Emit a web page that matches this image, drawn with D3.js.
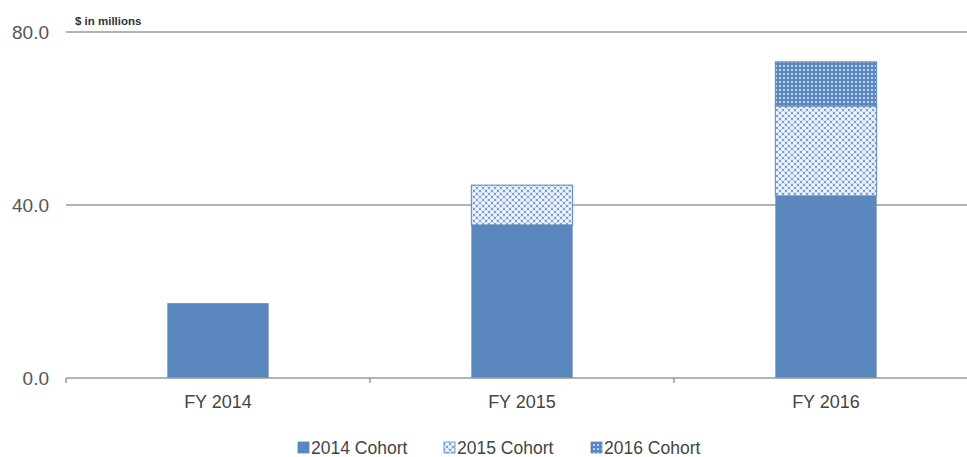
<!DOCTYPE html>
<html>
<head>
<meta charset="utf-8">
<script src="https://cdn.jsdelivr.net/npm/d3@7"></script>
<style>
  body { margin: 0; background: #fff; }
  text { font-family: "Liberation Sans", Arial, sans-serif; }
</style>
</head>
<body>
<div id="chart"></div>
<script>
// data ($ in millions)
var categories = ["FY 2014", "FY 2015", "FY 2016"];
var cohorts = ["2014 Cohort", "2015 Cohort", "2016 Cohort"];
var cohort2014 = [17.3, 35.4, 42.1];
var cohort2015 = [0, 9.2, 20.8];
var cohort2016 = [0, 0, 10.2];
var yTicks = [0, 40, 80];

var W = 967, H = 457;
var margin = { top: 32, right: -11, bottom: 79, left: 66 };
var width = W - margin.left - margin.right,
    height = H - margin.top - margin.bottom;
var blue = "#5a87bd";

var svg = d3.select("#chart").append("svg")
  .attr("width", W).attr("height", H);

var defs = svg.append("defs");
// lattice for 2015 cohort: offset white spots on blue
var p1 = defs.append("pattern").attr("id", "pat2015")
  .attr("patternUnits", "userSpaceOnUse").attr("width", 6).attr("height", 6);
p1.append("rect").attr("width", 6).attr("height", 6).attr("fill", "#7aa0cf");
[[3, 3], [0, 0], [6, 0], [0, 6], [6, 6]].forEach(function (c) {
  p1.append("circle").attr("cx", c[0]).attr("cy", c[1]).attr("r", 2.05).attr("fill", "#f2f6fc");
});
// small dots for 2016 cohort
var p2 = defs.append("pattern").attr("id", "pat2016")
  .attr("patternUnits", "userSpaceOnUse").attr("width", 4).attr("height", 4);
p2.append("rect").attr("width", 4).attr("height", 4).attr("fill", blue);
p2.append("rect").attr("x", 1).attr("y", 1).attr("width", 2).attr("height", 2).attr("fill", "#bcd0ea");

var fills = [blue, "url(#pat2015)", "url(#pat2016)"];

var g = svg.append("g")
  .attr("transform", "translate(" + margin.left + "," + margin.top + ")");

var x = d3.scaleBand().domain(categories).range([0, width]).paddingInner(0).paddingOuter(0);
var y = d3.scaleLinear().domain([0, 80]).range([height, 0]);

// gridlines
g.selectAll(".grid").data(yTicks.filter(d => d > 0)).join("line")
  .attr("class", "grid")
  .attr("x1", 0).attr("x2", width)
  .attr("y1", d => y(d)).attr("y2", d => y(d))
  .attr("stroke", "#9a9a9a").attr("stroke-width", 1.5);

// y labels
g.selectAll(".ylab").data(yTicks).join("text")
  .attr("class", "ylab")
  .attr("x", -17).attr("y", d => y(d)).attr("dy", "0.36em")
  .attr("text-anchor", "end")
  .attr("font-size", 19).attr("fill", "#555")
  .text(d => d.toFixed(1));

g.append("text").attr("x", 9).attr("y", -7)
  .attr("font-size", 11.5).attr("font-weight", "bold").attr("fill", "#333")
  .text("$ in millions");

// stacked bars
var rows = categories.map((c, i) => ({ cat: c, a: cohort2014[i], b: cohort2015[i], c: cohort2016[i] }));
var stack = d3.stack().keys(["a", "b", "c"])(rows);
var bw = x.bandwidth() / 3;

stack.forEach(function (layer, k) {
  g.selectAll(".bar" + k).data(layer.filter(d => d[1] - d[0] > 0)).join("rect")
    .attr("class", "bar" + k)
    .attr("x", d => x(d.data.cat) + x.bandwidth() / 2 - bw / 2)
    .attr("width", bw)
    .attr("y", d => y(d[1]))
    .attr("height", d => y(d[0]) - y(d[1]))
    .attr("fill", fills[k])
    .attr("stroke", k > 0 ? blue : "none")
    .attr("stroke-width", 1);
});

// x axis
var xAxis = g.append("g").attr("transform", "translate(0," + height + ")");
xAxis.append("line").attr("x1", 0).attr("x2", width)
  .attr("stroke", "#9a9a9a").attr("stroke-width", 1.5);
xAxis.selectAll(".tick").data(categories).join("line")
  .attr("x1", d => x(d)).attr("x2", d => x(d))
  .attr("y1", 0).attr("y2", 5)
  .attr("stroke", "#9a9a9a").attr("stroke-width", 1.5);
xAxis.selectAll(".xlab").data(categories).join("text")
  .attr("x", d => x(d) + x.bandwidth() / 2)
  .attr("y", 30)
  .attr("text-anchor", "middle")
  .attr("font-size", 18).attr("fill", "#444")
  .text(d => d);

// legend
var legX = [298, 444, 591];
var leg = svg.append("g").attr("transform", "translate(0,447)");
cohorts.forEach(function (name, i) {
  leg.append("rect").attr("x", legX[i]).attr("y", -5).attr("width", 11).attr("height", 11)
    .attr("fill", fills[i]).attr("stroke", blue).attr("stroke-width", 0.8);
  leg.append("text").attr("x", legX[i] + 13).attr("y", 1).attr("dy", "0.36em")
    .attr("font-size", 17.5).attr("fill", "#444").text(name);
});
</script>
</body>
</html>
